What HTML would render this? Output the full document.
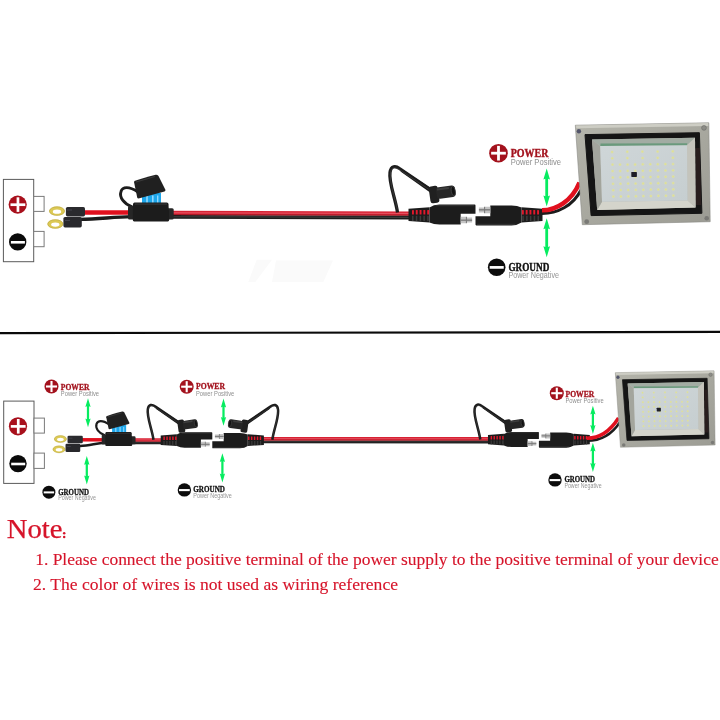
<!DOCTYPE html>
<html><head><meta charset="utf-8"><title>Wiring</title>
<style>
html,body{margin:0;padding:0;background:#fff;}
body{width:720px;height:720px;position:relative;overflow:hidden;font-family:"Liberation Serif",serif;}
svg{position:absolute;left:0;top:0;filter:blur(0.35px);}
.sf{font-family:"Liberation Serif",serif;}
.ss{font-family:"Liberation Sans",sans-serif;}
.note{position:absolute;color:#d0192b;font-family:"Liberation Serif",serif;white-space:nowrap;}
</style></head><body>
<svg width="720" height="720" viewBox="0 0 720 720">
<rect x="3.4" y="179.4" width="30.3" height="82.3" fill="#fff" stroke="#5a5a5a" stroke-width="1"/>
<rect x="33.7" y="196.4" width="10.4" height="15" fill="#fff" stroke="#7a7a7a" stroke-width="1"/>
<rect x="33.7" y="231.4" width="10.4" height="15.3" fill="#fff" stroke="#7a7a7a" stroke-width="1"/>
<circle cx="17.7" cy="204.6" r="9.1" fill="#a8101c"/>
<rect x="10.5" y="203.35000000000002" width="14.8" height="2.7" fill="#fff"/>
<rect x="16.599999999999998" y="197.29999999999998" width="2.7" height="14.6" fill="#fff"/>
<circle cx="17.7" cy="241.9" r="8.7" fill="#0a0a0a"/>
<rect x="10.899999999999999" y="241.0" width="14" height="2.6" fill="#fff"/>
<path d="M80,219.4 C100,219.4 112,216.8 132,216.6" fill="none" stroke="#1c1c1c" stroke-width="3.4"/>
<path d="M84,212.5 L132,212.5" fill="none" stroke="#e0101e" stroke-width="4.6"/>
<path d="M170,216.9 L410,217.5" stroke="#1c1c1c" stroke-width="3.8"/>
<path d="M170,216.71 L410,217.31" stroke="#3c3c3c" stroke-width="1.14"/>
<path d="M170,212.9 L410,213.5" stroke="#d82234" stroke-width="4.2"/>
<path d="M170,212.816 L410,213.416" stroke="#e9606f" stroke-width="0.84"/>
<path d="M170,214.66400000000002 L410,215.264" stroke="#8a1018" stroke-width="0.67"/>
<g transform="translate(397.5,212.5) scale(1.0,1.0)"><path d="M0,0 C-2,-14 -9,-30 -7.5,-40 C-6.5,-47 -2,-47 2,-44 L36,-21" fill="none" stroke="#1c1c1c" stroke-width="3.3" stroke-linejoin="round"/><path d="M4,-43.5 L36,-22.5 L34,-19 L3,-41 Z" fill="#1c1c1c"/><path d="M-0.3,-3 C-2,-14 -8.5,-30 -7,-40 C-6,-45.5 -2,-45.5 2,-42.8 L33,-22" fill="none" stroke="#4a4a4a" stroke-width="0.6"/><g transform="rotate(-8 44 -19)"><rect x="32" y="-27.5" width="9" height="17" rx="2.5" fill="#202020"/><rect x="39" y="-25.5" width="19" height="11.5" rx="3" fill="#262626"/><ellipse cx="56" cy="-19.8" rx="2" ry="4.6" fill="#111" stroke="#444" stroke-width="0.8"/><rect x="40" y="-24.5" width="12" height="2" fill="#3e3e3e"/></g></g>
<g transform="translate(57,211.1) scale(1.0)"><path fill-rule="evenodd" fill="#dcc955" d="M-7.8,0 a7.8,4.5 0 1,0 15.6,0 a7.8,4.5 0 1,0 -15.6,0 Z M-4.2,0.6 a4.2,2.1 0 1,0 8.4,0 a4.2,2.1 0 1,0 -8.4,0 Z"/><path fill="none" stroke="#b8a53a" stroke-width="0.6" d="M-7.6,0 a7.6,4.3 0 1,0 15.2,0 a7.6,4.3 0 1,0 -15.2,0 Z"/><path fill-rule="evenodd" fill="#dcc955" d="M-9.5,12.9 a7.8,4.5 0 1,0 15.6,0 a7.8,4.5 0 1,0 -15.6,0 Z M-5.9,13.5 a4.2,2.1 0 1,0 8.4,0 a4.2,2.1 0 1,0 -8.4,0 Z"/><path fill="none" stroke="#b8a53a" stroke-width="0.6" d="M-9.299999999999999,12.9 a7.6,4.3 0 1,0 15.2,0 a7.6,4.3 0 1,0 -15.2,0 Z"/><rect x="8.9" y="-4.1" width="19.1" height="9.4" rx="1.6" fill="#2a2a2e"/><rect x="6.4" y="5.9" width="18.4" height="10.4" rx="1.6" fill="#28282c"/><rect x="10" y="-1.5" width="5" height="0.8" fill="#4a4a55"/><rect x="8" y="9" width="5" height="0.8" fill="#4a4a55"/></g>
<g transform="translate(151,211.5) scale(1.0)"><path d="M-19.5,-5 C-27,-8 -32,-14 -30,-20 C-28.5,-25 -22,-25.5 -13,-19.5" fill="none" stroke="#1c1c1c" stroke-width="2.9" stroke-linecap="round"/><rect x="-9" y="-18.5" width="19" height="10.5" fill="#1ea6ea"/><rect x="-4.8" y="-16" width="1.6" height="8" fill="#8fd8ff"/><rect x="1" y="-16" width="1.6" height="8" fill="#8fd8ff"/><rect x="6" y="-16" width="1.4" height="8" fill="#8fd8ff"/><path d="M-16.7,-30.5 Q-10,-33 4.7,-36.8 Q6.5,-37 7.5,-35.5 L14.4,-21.7 Q14.8,-20.5 13.5,-20 L-12.5,-13 Q-13.5,-13 -13.8,-14 L-16.9,-29 Z" fill="#202020"/><path d="M-15,-29.5 L4,-35" stroke="#3a3a3a" stroke-width="1.2"/><rect x="-23" y="-5.7" width="6.5" height="13.6" rx="1.5" fill="#262626"/><rect x="15.5" y="-3.3" width="7.2" height="11.2" rx="1.5" fill="#262626"/><path d="M-16.5,-9.1 L15.8,-9.1 Q17.3,-9.1 17.5,-7.5 L18.2,8.5 Q18.2,9.9 16.8,9.9 L-16.8,9.9 Q-18.2,9.9 -18.2,8.5 L-18,-7.5 Q-17.8,-9.1 -16.5,-9.1 Z" fill="#1c1c1c"/><rect x="-16" y="-8" width="32" height="1.2" fill="#363636"/></g>
<g transform="translate(475.5,215) scale(1.0)"><path d="M-46,-7.5 Q-42,-10.3 -36,-10.4 L-0.8,-10.4 Q0,-10.4 0,-9.6 L0,-1.2 L-14.8,-1.2 L-14.8,9.6 L-36,9.6 Q-42,9.6 -46,7.5 Z" fill="#1c1c1c"/><path d="M-40,-9.3 L-1.5,-9.3" stroke="#3a3a3a" stroke-width="0.9"/><path d="M-14.8,1.8 L-9,1.8 L-9,2.6 L-3.4,2.6 L-3.4,7.6 L-9,7.6 L-9,8.2 L-14.8,8.2 Z" fill="#c4c4c4"/><rect x="-14.8" y="4.6" width="11.4" height="1.1" fill="#6a6a6a"/><rect x="-9.6" y="1.8" width="1" height="6.4" fill="#777"/><path d="M-67,-6.3 L-46,-7.8 L-46,7.5 L-67,6" fill="#1c1c1c"/><rect x="-63.5" y="-5" width="1.9" height="4.6" rx="0.4" fill="#e4182c"/><rect x="-63.5" y="0.8" width="1.5" height="5.2" fill="#3c3c3c"/><rect x="-59.7" y="-5" width="1.9" height="4.6" rx="0.4" fill="#e4182c"/><rect x="-59.7" y="0.8" width="1.5" height="5.2" fill="#3c3c3c"/><rect x="-55.9" y="-5" width="1.9" height="4.6" rx="0.4" fill="#e4182c"/><rect x="-55.9" y="0.8" width="1.5" height="5.2" fill="#3c3c3c"/><rect x="-52.1" y="-5" width="1.9" height="4.6" rx="0.4" fill="#e4182c"/><rect x="-52.1" y="0.8" width="1.5" height="5.2" fill="#3c3c3c"/><rect x="-48.3" y="-5" width="1.9" height="4.6" rx="0.4" fill="#e4182c"/><rect x="-48.3" y="0.8" width="1.5" height="5.2" fill="#3c3c3c"/><g transform="rotate(180)"><path d="M-46,-7.5 Q-42,-10.3 -36,-10.4 L-0.8,-10.4 Q0,-10.4 0,-9.6 L0,-1.2 L-14.8,-1.2 L-14.8,9.6 L-36,9.6 Q-42,9.6 -46,7.5 Z" fill="#1c1c1c"/><path d="M-40,-9.3 L-1.5,-9.3" stroke="#3a3a3a" stroke-width="0.9"/><path d="M-14.8,1.8 L-9,1.8 L-9,2.6 L-3.4,2.6 L-3.4,7.6 L-9,7.6 L-9,8.2 L-14.8,8.2 Z" fill="#c4c4c4"/><rect x="-14.8" y="4.6" width="11.4" height="1.1" fill="#6a6a6a"/><rect x="-9.6" y="1.8" width="1" height="6.4" fill="#777"/></g><g transform="scale(-1,1)"><path d="M-67,-6.3 L-46,-7.8 L-46,7.5 L-67,6" fill="#1c1c1c"/><rect x="-63.5" y="-5" width="1.9" height="4.6" rx="0.4" fill="#e4182c"/><rect x="-63.5" y="0.8" width="1.5" height="5.2" fill="#3c3c3c"/><rect x="-59.7" y="-5" width="1.9" height="4.6" rx="0.4" fill="#e4182c"/><rect x="-59.7" y="0.8" width="1.5" height="5.2" fill="#3c3c3c"/><rect x="-55.9" y="-5" width="1.9" height="4.6" rx="0.4" fill="#e4182c"/><rect x="-55.9" y="0.8" width="1.5" height="5.2" fill="#3c3c3c"/><rect x="-52.1" y="-5" width="1.9" height="4.6" rx="0.4" fill="#e4182c"/><rect x="-52.1" y="0.8" width="1.5" height="5.2" fill="#3c3c3c"/><rect x="-48.3" y="-5" width="1.9" height="4.6" rx="0.4" fill="#e4182c"/><rect x="-48.3" y="0.8" width="1.5" height="5.2" fill="#3c3c3c"/></g></g>
<path d="M542,213.6 C557,213.6 573,206 581,190" fill="none" stroke="#1c1c1c" stroke-width="3"/>
<path d="M542,210.3 C556,210.3 572,201 579.5,182.5" fill="none" stroke="#e0101e" stroke-width="4.6"/>
<g transform="translate(575.3,125) scale(1.0,1.0) translate(-575.3,-125)"><defs><linearGradient id="lf575" x1="0" y1="0" x2="1" y2="1"><stop offset="0" stop-color="#b4b4aa"/><stop offset="1" stop-color="#9c9c94"/></linearGradient><linearGradient id="lp575" x1="0" y1="0" x2="1" y2="1"><stop offset="0" stop-color="#cfd6d8"/><stop offset="1" stop-color="#c6ced0"/></linearGradient></defs><polygon points="575.3,125.2 708.8,122.8 710.2,221.7 582.3,224.7" fill="url(#lf575)" stroke="#8a8a84" stroke-width="0.6" stroke-linejoin="round"/><polygon points="576.0,125.4 708.2,123.1 708.3,125.9 576.3,128.2" fill="#cdcdc4"/><polygon points="585.0,134.6 699.4,132.7 701.9,213.3 591.1,215.6" fill="#151515" stroke="#151515" stroke-width="1" stroke-linejoin="round"/><polygon points="695.5,148.0 699.8,148.0 701.2,205.0 696.0,205.0" fill="#3a2626" opacity="0.55"/><polygon points="592.0,139.6 695.0,137.8 695.6,207.5 597.2,210.0" fill="#b8b9b1"/><polygon points="597.2,210.0 602.0,201.8 687.6,200.4 695.6,207.5" fill="#d4d4cb"/><polygon points="592.0,139.6 600.2,146.0 602.0,201.8 597.2,210.0" fill="#a3a59d"/><polygon points="592.0,139.6 695.0,137.8 687.0,145.3 600.2,146.0" fill="#a2aca3"/><polygon points="600.5,143.6 687.3,143.2 687.0,145.7 600.4,146.1" fill="#3d8a5c" opacity="0.55"/><polygon points="695.0,137.8 687.0,145.3 687.6,200.4 695.6,207.5" fill="#c4c4bc"/><polygon points="600.2,146.0 687.0,145.3 687.6,200.4 602.0,201.8" fill="url(#lp575)"/><circle cx="612.1" cy="151.9" r="1.5" fill="#d8dcb4"/><circle cx="612.1" cy="151.9" r="0.85" fill="#dfe092"/><circle cx="627.3" cy="151.7" r="1.5" fill="#d8dcb4"/><circle cx="627.3" cy="151.7" r="0.85" fill="#dfe092"/><circle cx="642.4" cy="151.6" r="1.5" fill="#d8dcb4"/><circle cx="642.4" cy="151.6" r="0.85" fill="#dfe092"/><circle cx="657.6" cy="151.5" r="1.5" fill="#d8dcb4"/><circle cx="657.6" cy="151.5" r="0.85" fill="#dfe092"/><circle cx="672.8" cy="151.3" r="1.5" fill="#d8dcb4"/><circle cx="672.8" cy="151.3" r="0.85" fill="#dfe092"/><circle cx="612.3" cy="158.3" r="1.5" fill="#d8dcb4"/><circle cx="612.3" cy="158.3" r="0.85" fill="#dfe092"/><circle cx="627.4" cy="158.1" r="1.5" fill="#d8dcb4"/><circle cx="627.4" cy="158.1" r="0.85" fill="#dfe092"/><circle cx="642.6" cy="158.0" r="1.5" fill="#d8dcb4"/><circle cx="642.6" cy="158.0" r="0.85" fill="#dfe092"/><circle cx="657.7" cy="157.8" r="1.5" fill="#d8dcb4"/><circle cx="657.7" cy="157.8" r="0.85" fill="#dfe092"/><circle cx="672.9" cy="157.7" r="1.5" fill="#d8dcb4"/><circle cx="672.9" cy="157.7" r="0.85" fill="#dfe092"/><circle cx="612.5" cy="164.6" r="1.5" fill="#d8dcb4"/><circle cx="612.5" cy="164.6" r="0.85" fill="#dfe092"/><circle cx="620.0" cy="164.6" r="1.5" fill="#d8dcb4"/><circle cx="620.0" cy="164.6" r="0.85" fill="#dfe092"/><circle cx="627.6" cy="164.5" r="1.5" fill="#d8dcb4"/><circle cx="627.6" cy="164.5" r="0.85" fill="#dfe092"/><circle cx="635.1" cy="164.4" r="1.5" fill="#d8dcb4"/><circle cx="635.1" cy="164.4" r="0.85" fill="#dfe092"/><circle cx="642.7" cy="164.3" r="1.5" fill="#d8dcb4"/><circle cx="642.7" cy="164.3" r="0.85" fill="#dfe092"/><circle cx="650.3" cy="164.2" r="1.5" fill="#d8dcb4"/><circle cx="650.3" cy="164.2" r="0.85" fill="#dfe092"/><circle cx="657.8" cy="164.2" r="1.5" fill="#d8dcb4"/><circle cx="657.8" cy="164.2" r="0.85" fill="#dfe092"/><circle cx="665.4" cy="164.1" r="1.5" fill="#d8dcb4"/><circle cx="665.4" cy="164.1" r="0.85" fill="#dfe092"/><circle cx="673.0" cy="164.0" r="1.5" fill="#d8dcb4"/><circle cx="673.0" cy="164.0" r="0.85" fill="#dfe092"/><circle cx="612.6" cy="171.0" r="1.5" fill="#d8dcb4"/><circle cx="612.6" cy="171.0" r="0.85" fill="#dfe092"/><circle cx="620.2" cy="170.9" r="1.5" fill="#d8dcb4"/><circle cx="620.2" cy="170.9" r="0.85" fill="#dfe092"/><circle cx="627.7" cy="170.8" r="1.5" fill="#d8dcb4"/><circle cx="627.7" cy="170.8" r="0.85" fill="#dfe092"/><circle cx="635.3" cy="170.8" r="1.5" fill="#d8dcb4"/><circle cx="635.3" cy="170.8" r="0.85" fill="#dfe092"/><circle cx="642.8" cy="170.7" r="1.5" fill="#d8dcb4"/><circle cx="642.8" cy="170.7" r="0.85" fill="#dfe092"/><circle cx="650.4" cy="170.6" r="1.5" fill="#d8dcb4"/><circle cx="650.4" cy="170.6" r="0.85" fill="#dfe092"/><circle cx="658.0" cy="170.5" r="1.5" fill="#d8dcb4"/><circle cx="658.0" cy="170.5" r="0.85" fill="#dfe092"/><circle cx="665.5" cy="170.4" r="1.5" fill="#d8dcb4"/><circle cx="665.5" cy="170.4" r="0.85" fill="#dfe092"/><circle cx="673.1" cy="170.3" r="1.5" fill="#d8dcb4"/><circle cx="673.1" cy="170.3" r="0.85" fill="#dfe092"/><circle cx="612.8" cy="177.4" r="1.5" fill="#d8dcb4"/><circle cx="612.8" cy="177.4" r="0.85" fill="#dfe092"/><circle cx="620.4" cy="177.3" r="1.5" fill="#d8dcb4"/><circle cx="620.4" cy="177.3" r="0.85" fill="#dfe092"/><circle cx="627.9" cy="177.2" r="1.5" fill="#d8dcb4"/><circle cx="627.9" cy="177.2" r="0.85" fill="#dfe092"/><circle cx="635.4" cy="177.1" r="1.5" fill="#d8dcb4"/><circle cx="635.4" cy="177.1" r="0.85" fill="#dfe092"/><circle cx="643.0" cy="177.0" r="1.5" fill="#d8dcb4"/><circle cx="643.0" cy="177.0" r="0.85" fill="#dfe092"/><circle cx="650.5" cy="176.9" r="1.5" fill="#d8dcb4"/><circle cx="650.5" cy="176.9" r="0.85" fill="#dfe092"/><circle cx="658.1" cy="176.8" r="1.5" fill="#d8dcb4"/><circle cx="658.1" cy="176.8" r="0.85" fill="#dfe092"/><circle cx="665.6" cy="176.7" r="1.5" fill="#d8dcb4"/><circle cx="665.6" cy="176.7" r="0.85" fill="#dfe092"/><circle cx="673.2" cy="176.6" r="1.5" fill="#d8dcb4"/><circle cx="673.2" cy="176.6" r="0.85" fill="#dfe092"/><circle cx="613.0" cy="183.8" r="1.5" fill="#d8dcb4"/><circle cx="613.0" cy="183.8" r="0.85" fill="#dfe092"/><circle cx="620.5" cy="183.7" r="1.5" fill="#d8dcb4"/><circle cx="620.5" cy="183.7" r="0.85" fill="#dfe092"/><circle cx="628.1" cy="183.6" r="1.5" fill="#d8dcb4"/><circle cx="628.1" cy="183.6" r="0.85" fill="#dfe092"/><circle cx="635.6" cy="183.5" r="1.5" fill="#d8dcb4"/><circle cx="635.6" cy="183.5" r="0.85" fill="#dfe092"/><circle cx="643.1" cy="183.4" r="1.5" fill="#d8dcb4"/><circle cx="643.1" cy="183.4" r="0.85" fill="#dfe092"/><circle cx="650.7" cy="183.3" r="1.5" fill="#d8dcb4"/><circle cx="650.7" cy="183.3" r="0.85" fill="#dfe092"/><circle cx="658.2" cy="183.2" r="1.5" fill="#d8dcb4"/><circle cx="658.2" cy="183.2" r="0.85" fill="#dfe092"/><circle cx="665.7" cy="183.1" r="1.5" fill="#d8dcb4"/><circle cx="665.7" cy="183.1" r="0.85" fill="#dfe092"/><circle cx="673.2" cy="183.0" r="1.5" fill="#d8dcb4"/><circle cx="673.2" cy="183.0" r="0.85" fill="#dfe092"/><circle cx="613.2" cy="190.2" r="1.5" fill="#d8dcb4"/><circle cx="613.2" cy="190.2" r="0.85" fill="#dfe092"/><circle cx="620.7" cy="190.1" r="1.5" fill="#d8dcb4"/><circle cx="620.7" cy="190.1" r="0.85" fill="#dfe092"/><circle cx="628.2" cy="189.9" r="1.5" fill="#d8dcb4"/><circle cx="628.2" cy="189.9" r="0.85" fill="#dfe092"/><circle cx="635.8" cy="189.8" r="1.5" fill="#d8dcb4"/><circle cx="635.8" cy="189.8" r="0.85" fill="#dfe092"/><circle cx="643.3" cy="189.7" r="1.5" fill="#d8dcb4"/><circle cx="643.3" cy="189.7" r="0.85" fill="#dfe092"/><circle cx="650.8" cy="189.6" r="1.5" fill="#d8dcb4"/><circle cx="650.8" cy="189.6" r="0.85" fill="#dfe092"/><circle cx="658.3" cy="189.5" r="1.5" fill="#d8dcb4"/><circle cx="658.3" cy="189.5" r="0.85" fill="#dfe092"/><circle cx="665.8" cy="189.4" r="1.5" fill="#d8dcb4"/><circle cx="665.8" cy="189.4" r="0.85" fill="#dfe092"/><circle cx="673.3" cy="189.3" r="1.5" fill="#d8dcb4"/><circle cx="673.3" cy="189.3" r="0.85" fill="#dfe092"/><circle cx="613.4" cy="196.5" r="1.5" fill="#d8dcb4"/><circle cx="613.4" cy="196.5" r="0.85" fill="#dfe092"/><circle cx="620.9" cy="196.4" r="1.5" fill="#d8dcb4"/><circle cx="620.9" cy="196.4" r="0.85" fill="#dfe092"/><circle cx="628.4" cy="196.3" r="1.5" fill="#d8dcb4"/><circle cx="628.4" cy="196.3" r="0.85" fill="#dfe092"/><circle cx="635.9" cy="196.2" r="1.5" fill="#d8dcb4"/><circle cx="635.9" cy="196.2" r="0.85" fill="#dfe092"/><circle cx="643.4" cy="196.1" r="1.5" fill="#d8dcb4"/><circle cx="643.4" cy="196.1" r="0.85" fill="#dfe092"/><circle cx="650.9" cy="196.0" r="1.5" fill="#d8dcb4"/><circle cx="650.9" cy="196.0" r="0.85" fill="#dfe092"/><circle cx="658.4" cy="195.8" r="1.5" fill="#d8dcb4"/><circle cx="658.4" cy="195.8" r="0.85" fill="#dfe092"/><circle cx="665.9" cy="195.7" r="1.5" fill="#d8dcb4"/><circle cx="665.9" cy="195.7" r="0.85" fill="#dfe092"/><circle cx="673.4" cy="195.6" r="1.5" fill="#d8dcb4"/><circle cx="673.4" cy="195.6" r="0.85" fill="#dfe092"/><rect x="631.3" y="171.9" width="5.6" height="5" rx="0.6" fill="#1e1e26"/><circle cx="578.9" cy="131.3" r="2.2" fill="#53556a"/><circle cx="704" cy="127.9" r="2.4" fill="#8c8c86" stroke="#6a6a66" stroke-width="0.6"/><circle cx="586.7" cy="221.7" r="2.4" fill="#7a7a76"/><circle cx="706.7" cy="218.3" r="2.3" fill="#7a7a76"/></g>
<g fill="#06ec60"><path d="M546.7,168.5 L550.0,179.5 L548.1,178.7 L548.1,196.3 L550.0,195.5 L546.7,206.5 L543.4000000000001,195.5 L545.3000000000001,196.3 L545.3000000000001,178.7 L543.4000000000001,179.5 Z"/></g>
<g fill="#06ec60"><path d="M546.7,218.3 L550.0,229.3 L548.1,228.5 L548.1,247.0 L550.0,246.2 L546.7,257.2 L543.4000000000001,246.2 L545.3000000000001,247.0 L545.3000000000001,228.5 L543.4000000000001,229.3 Z"/></g>
<circle cx="498.5" cy="153.2" r="9.3" fill="#a3121d"/>
<rect x="491.153" y="151.80499999999998" width="14.694000000000003" height="2.79" fill="#fff"/>
<rect x="497.105" y="145.85299999999998" width="2.79" height="14.694000000000003" fill="#fff"/>
<text x="510.7" y="156.7" class="sf" font-weight="bold" font-size="11.5" fill="#a3121d" stroke="#a3121d" stroke-width="0.40" textLength="37.7" lengthAdjust="spacingAndGlyphs">POWER</text>
<text x="510.7" y="165" class="ss" font-size="8.2" fill="#8e8e8e" textLength="50.3" lengthAdjust="spacingAndGlyphs">Power Positive</text>
<circle cx="496.7" cy="267.2" r="8.8" fill="#0c0c0c"/>
<rect x="489.65999999999997" y="266.036" width="14.080000000000002" height="2.728" fill="#fff"/>
<text x="508.4" y="271.0" class="sf" font-weight="bold" font-size="11.5" fill="#111" stroke="#111" stroke-width="0.40" textLength="40.9" lengthAdjust="spacingAndGlyphs">GROUND</text>
<text x="508.4" y="278.4" class="ss" font-size="8.2" fill="#949494" textLength="50.6" lengthAdjust="spacingAndGlyphs">Power Negative</text>
<path d="M248.3,282 L256.7,259.7 L272,259.7 L255.3,282 Z" fill="#fafafa"/>
<path d="M272,282 L276,260.4 L333,260.4 L323.3,282 Z" fill="#fafafa"/>
<path d="M0,333.2 L720,331.9" stroke="#0a0a0a" stroke-width="2.2"/>
<rect x="3.7" y="401.1" width="30.3" height="82.3" fill="#fff" stroke="#5a5a5a" stroke-width="1"/>
<rect x="34.0" y="418.1" width="10.4" height="15" fill="#fff" stroke="#7a7a7a" stroke-width="1"/>
<rect x="34.0" y="453.1" width="10.4" height="15.3" fill="#fff" stroke="#7a7a7a" stroke-width="1"/>
<circle cx="18.0" cy="426.3" r="9.1" fill="#a8101c"/>
<rect x="10.8" y="425.05" width="14.8" height="2.7" fill="#fff"/>
<rect x="16.9" y="419.0" width="2.7" height="14.6" fill="#fff"/>
<circle cx="18.0" cy="463.6" r="8.7" fill="#0a0a0a"/>
<rect x="11.2" y="462.7" width="14" height="2.6" fill="#fff"/>
<path d="M80,446 C90,446 96,443 105,442.8" fill="none" stroke="#1c1c1c" stroke-width="2.6"/>
<path d="M81,439.8 L105,439.8" fill="none" stroke="#e0101e" stroke-width="3.5"/>
<path d="M135,442.9 L165,443.0" stroke="#1c1c1c" stroke-width="2.6"/>
<path d="M135,442.77 L165,442.87" stroke="#3c3c3c" stroke-width="0.78"/>
<path d="M135,439.9 L165,440.0" stroke="#d82234" stroke-width="3.4"/>
<path d="M135,439.832 L165,439.932" stroke="#e9606f" stroke-width="0.68"/>
<path d="M135,441.328 L165,441.428" stroke="#8a1018" stroke-width="0.54"/>
<path d="M262,441.79999999999995 L492,442.0" stroke="#1c1c1c" stroke-width="2.8"/>
<path d="M262,441.65999999999997 L492,441.86" stroke="#3c3c3c" stroke-width="0.84"/>
<path d="M262,438.65 L492,438.85" stroke="#d82234" stroke-width="3.5"/>
<path d="M262,438.58 L492,438.78000000000003" stroke="#e9606f" stroke-width="0.70"/>
<path d="M262,440.12 L492,440.32000000000005" stroke="#8a1018" stroke-width="0.56"/>
<g transform="translate(153.5,439.8) scale(0.76,0.76)"><path d="M0,0 C-2,-14 -9,-30 -7.5,-40 C-6.5,-47 -2,-47 2,-44 L36,-21" fill="none" stroke="#1c1c1c" stroke-width="3.3" stroke-linejoin="round"/><path d="M4,-43.5 L36,-22.5 L34,-19 L3,-41 Z" fill="#1c1c1c"/><path d="M-0.3,-3 C-2,-14 -8.5,-30 -7,-40 C-6,-45.5 -2,-45.5 2,-42.8 L33,-22" fill="none" stroke="#4a4a4a" stroke-width="0.6"/><g transform="rotate(-8 44 -19)"><rect x="32" y="-27.5" width="9" height="17" rx="2.5" fill="#202020"/><rect x="39" y="-25.5" width="19" height="11.5" rx="3" fill="#262626"/><ellipse cx="56" cy="-19.8" rx="2" ry="4.6" fill="#111" stroke="#444" stroke-width="0.8"/><rect x="40" y="-24.5" width="12" height="2" fill="#3e3e3e"/></g></g>
<g transform="translate(272.3,439.8) scale(-0.76,0.76)"><path d="M0,0 C-2,-14 -9,-30 -7.5,-40 C-6.5,-47 -2,-47 2,-44 L36,-21" fill="none" stroke="#1c1c1c" stroke-width="3.3" stroke-linejoin="round"/><path d="M4,-43.5 L36,-22.5 L34,-19 L3,-41 Z" fill="#1c1c1c"/><path d="M-0.3,-3 C-2,-14 -8.5,-30 -7,-40 C-6,-45.5 -2,-45.5 2,-42.8 L33,-22" fill="none" stroke="#4a4a4a" stroke-width="0.6"/><g transform="rotate(-8 44 -19)"><rect x="32" y="-27.5" width="9" height="17" rx="2.5" fill="#202020"/><rect x="39" y="-25.5" width="19" height="11.5" rx="3" fill="#262626"/><ellipse cx="56" cy="-19.8" rx="2" ry="4.6" fill="#111" stroke="#444" stroke-width="0.8"/><rect x="40" y="-24.5" width="12" height="2" fill="#3e3e3e"/></g></g>
<g transform="translate(480.3,439.5) scale(0.76,0.76)"><path d="M0,0 C-2,-14 -9,-30 -7.5,-40 C-6.5,-47 -2,-47 2,-44 L36,-21" fill="none" stroke="#1c1c1c" stroke-width="3.3" stroke-linejoin="round"/><path d="M4,-43.5 L36,-22.5 L34,-19 L3,-41 Z" fill="#1c1c1c"/><path d="M-0.3,-3 C-2,-14 -8.5,-30 -7,-40 C-6,-45.5 -2,-45.5 2,-42.8 L33,-22" fill="none" stroke="#4a4a4a" stroke-width="0.6"/><g transform="rotate(-8 44 -19)"><rect x="32" y="-27.5" width="9" height="17" rx="2.5" fill="#202020"/><rect x="39" y="-25.5" width="19" height="11.5" rx="3" fill="#262626"/><ellipse cx="56" cy="-19.8" rx="2" ry="4.6" fill="#111" stroke="#444" stroke-width="0.8"/><rect x="40" y="-24.5" width="12" height="2" fill="#3e3e3e"/></g></g>
<g transform="translate(60.4,439) scale(0.8)"><path fill-rule="evenodd" fill="#dcc955" d="M-7.8,0 a7.8,4.5 0 1,0 15.6,0 a7.8,4.5 0 1,0 -15.6,0 Z M-4.2,0.6 a4.2,2.1 0 1,0 8.4,0 a4.2,2.1 0 1,0 -8.4,0 Z"/><path fill="none" stroke="#b8a53a" stroke-width="0.6" d="M-7.6,0 a7.6,4.3 0 1,0 15.2,0 a7.6,4.3 0 1,0 -15.2,0 Z"/><path fill-rule="evenodd" fill="#dcc955" d="M-9.5,12.9 a7.8,4.5 0 1,0 15.6,0 a7.8,4.5 0 1,0 -15.6,0 Z M-5.9,13.5 a4.2,2.1 0 1,0 8.4,0 a4.2,2.1 0 1,0 -8.4,0 Z"/><path fill="none" stroke="#b8a53a" stroke-width="0.6" d="M-9.299999999999999,12.9 a7.6,4.3 0 1,0 15.2,0 a7.6,4.3 0 1,0 -15.2,0 Z"/><rect x="8.9" y="-4.1" width="19.1" height="9.4" rx="1.6" fill="#2a2a2e"/><rect x="6.4" y="5.9" width="18.4" height="10.4" rx="1.6" fill="#28282c"/><rect x="10" y="-1.5" width="5" height="0.8" fill="#4a4a55"/><rect x="8" y="9" width="5" height="0.8" fill="#4a4a55"/></g>
<g transform="translate(118.75,438.75) scale(0.74)"><path d="M-19.5,-5 C-27,-8 -32,-14 -30,-20 C-28.5,-25 -22,-25.5 -13,-19.5" fill="none" stroke="#1c1c1c" stroke-width="2.9" stroke-linecap="round"/><rect x="-9" y="-18.5" width="19" height="10.5" fill="#1ea6ea"/><rect x="-4.8" y="-16" width="1.6" height="8" fill="#8fd8ff"/><rect x="1" y="-16" width="1.6" height="8" fill="#8fd8ff"/><rect x="6" y="-16" width="1.4" height="8" fill="#8fd8ff"/><path d="M-16.7,-30.5 Q-10,-33 4.7,-36.8 Q6.5,-37 7.5,-35.5 L14.4,-21.7 Q14.8,-20.5 13.5,-20 L-12.5,-13 Q-13.5,-13 -13.8,-14 L-16.9,-29 Z" fill="#202020"/><path d="M-15,-29.5 L4,-35" stroke="#3a3a3a" stroke-width="1.2"/><rect x="-23" y="-5.7" width="6.5" height="13.6" rx="1.5" fill="#262626"/><rect x="15.5" y="-3.3" width="7.2" height="11.2" rx="1.5" fill="#262626"/><path d="M-16.5,-9.1 L15.8,-9.1 Q17.3,-9.1 17.5,-7.5 L18.2,8.5 Q18.2,9.9 16.8,9.9 L-16.8,9.9 Q-18.2,9.9 -18.2,8.5 L-18,-7.5 Q-17.8,-9.1 -16.5,-9.1 Z" fill="#1c1c1c"/><rect x="-16" y="-8" width="32" height="1.2" fill="#363636"/></g>
<g transform="translate(212.3,440.3) scale(0.77)"><path d="M-46,-7.5 Q-42,-10.3 -36,-10.4 L-0.8,-10.4 Q0,-10.4 0,-9.6 L0,-1.2 L-14.8,-1.2 L-14.8,9.6 L-36,9.6 Q-42,9.6 -46,7.5 Z" fill="#1c1c1c"/><path d="M-40,-9.3 L-1.5,-9.3" stroke="#3a3a3a" stroke-width="0.9"/><path d="M-14.8,1.8 L-9,1.8 L-9,2.6 L-3.4,2.6 L-3.4,7.6 L-9,7.6 L-9,8.2 L-14.8,8.2 Z" fill="#c4c4c4"/><rect x="-14.8" y="4.6" width="11.4" height="1.1" fill="#6a6a6a"/><rect x="-9.6" y="1.8" width="1" height="6.4" fill="#777"/><path d="M-67,-6.3 L-46,-7.8 L-46,7.5 L-67,6" fill="#1c1c1c"/><rect x="-63.5" y="-5" width="1.9" height="4.6" rx="0.4" fill="#e4182c"/><rect x="-63.5" y="0.8" width="1.5" height="5.2" fill="#3c3c3c"/><rect x="-59.7" y="-5" width="1.9" height="4.6" rx="0.4" fill="#e4182c"/><rect x="-59.7" y="0.8" width="1.5" height="5.2" fill="#3c3c3c"/><rect x="-55.9" y="-5" width="1.9" height="4.6" rx="0.4" fill="#e4182c"/><rect x="-55.9" y="0.8" width="1.5" height="5.2" fill="#3c3c3c"/><rect x="-52.1" y="-5" width="1.9" height="4.6" rx="0.4" fill="#e4182c"/><rect x="-52.1" y="0.8" width="1.5" height="5.2" fill="#3c3c3c"/><rect x="-48.3" y="-5" width="1.9" height="4.6" rx="0.4" fill="#e4182c"/><rect x="-48.3" y="0.8" width="1.5" height="5.2" fill="#3c3c3c"/><g transform="rotate(180)"><path d="M-46,-7.5 Q-42,-10.3 -36,-10.4 L-0.8,-10.4 Q0,-10.4 0,-9.6 L0,-1.2 L-14.8,-1.2 L-14.8,9.6 L-36,9.6 Q-42,9.6 -46,7.5 Z" fill="#1c1c1c"/><path d="M-40,-9.3 L-1.5,-9.3" stroke="#3a3a3a" stroke-width="0.9"/><path d="M-14.8,1.8 L-9,1.8 L-9,2.6 L-3.4,2.6 L-3.4,7.6 L-9,7.6 L-9,8.2 L-14.8,8.2 Z" fill="#c4c4c4"/><rect x="-14.8" y="4.6" width="11.4" height="1.1" fill="#6a6a6a"/><rect x="-9.6" y="1.8" width="1" height="6.4" fill="#777"/></g><g transform="scale(-1,1)"><path d="M-67,-6.3 L-46,-7.8 L-46,7.5 L-67,6" fill="#1c1c1c"/><rect x="-63.5" y="-5" width="1.9" height="4.6" rx="0.4" fill="#e4182c"/><rect x="-63.5" y="0.8" width="1.5" height="5.2" fill="#3c3c3c"/><rect x="-59.7" y="-5" width="1.9" height="4.6" rx="0.4" fill="#e4182c"/><rect x="-59.7" y="0.8" width="1.5" height="5.2" fill="#3c3c3c"/><rect x="-55.9" y="-5" width="1.9" height="4.6" rx="0.4" fill="#e4182c"/><rect x="-55.9" y="0.8" width="1.5" height="5.2" fill="#3c3c3c"/><rect x="-52.1" y="-5" width="1.9" height="4.6" rx="0.4" fill="#e4182c"/><rect x="-52.1" y="0.8" width="1.5" height="5.2" fill="#3c3c3c"/><rect x="-48.3" y="-5" width="1.9" height="4.6" rx="0.4" fill="#e4182c"/><rect x="-48.3" y="0.8" width="1.5" height="5.2" fill="#3c3c3c"/></g></g>
<g transform="translate(538.9,439.8) scale(0.76)"><path d="M-46,-7.5 Q-42,-10.3 -36,-10.4 L-0.8,-10.4 Q0,-10.4 0,-9.6 L0,-1.2 L-14.8,-1.2 L-14.8,9.6 L-36,9.6 Q-42,9.6 -46,7.5 Z" fill="#1c1c1c"/><path d="M-40,-9.3 L-1.5,-9.3" stroke="#3a3a3a" stroke-width="0.9"/><path d="M-14.8,1.8 L-9,1.8 L-9,2.6 L-3.4,2.6 L-3.4,7.6 L-9,7.6 L-9,8.2 L-14.8,8.2 Z" fill="#c4c4c4"/><rect x="-14.8" y="4.6" width="11.4" height="1.1" fill="#6a6a6a"/><rect x="-9.6" y="1.8" width="1" height="6.4" fill="#777"/><path d="M-67,-6.3 L-46,-7.8 L-46,7.5 L-67,6" fill="#1c1c1c"/><rect x="-63.5" y="-5" width="1.9" height="4.6" rx="0.4" fill="#e4182c"/><rect x="-63.5" y="0.8" width="1.5" height="5.2" fill="#3c3c3c"/><rect x="-59.7" y="-5" width="1.9" height="4.6" rx="0.4" fill="#e4182c"/><rect x="-59.7" y="0.8" width="1.5" height="5.2" fill="#3c3c3c"/><rect x="-55.9" y="-5" width="1.9" height="4.6" rx="0.4" fill="#e4182c"/><rect x="-55.9" y="0.8" width="1.5" height="5.2" fill="#3c3c3c"/><rect x="-52.1" y="-5" width="1.9" height="4.6" rx="0.4" fill="#e4182c"/><rect x="-52.1" y="0.8" width="1.5" height="5.2" fill="#3c3c3c"/><rect x="-48.3" y="-5" width="1.9" height="4.6" rx="0.4" fill="#e4182c"/><rect x="-48.3" y="0.8" width="1.5" height="5.2" fill="#3c3c3c"/><g transform="rotate(180)"><path d="M-46,-7.5 Q-42,-10.3 -36,-10.4 L-0.8,-10.4 Q0,-10.4 0,-9.6 L0,-1.2 L-14.8,-1.2 L-14.8,9.6 L-36,9.6 Q-42,9.6 -46,7.5 Z" fill="#1c1c1c"/><path d="M-40,-9.3 L-1.5,-9.3" stroke="#3a3a3a" stroke-width="0.9"/><path d="M-14.8,1.8 L-9,1.8 L-9,2.6 L-3.4,2.6 L-3.4,7.6 L-9,7.6 L-9,8.2 L-14.8,8.2 Z" fill="#c4c4c4"/><rect x="-14.8" y="4.6" width="11.4" height="1.1" fill="#6a6a6a"/><rect x="-9.6" y="1.8" width="1" height="6.4" fill="#777"/></g><g transform="scale(-1,1)"><path d="M-67,-6.3 L-46,-7.8 L-46,7.5 L-67,6" fill="#1c1c1c"/><rect x="-63.5" y="-5" width="1.9" height="4.6" rx="0.4" fill="#e4182c"/><rect x="-63.5" y="0.8" width="1.5" height="5.2" fill="#3c3c3c"/><rect x="-59.7" y="-5" width="1.9" height="4.6" rx="0.4" fill="#e4182c"/><rect x="-59.7" y="0.8" width="1.5" height="5.2" fill="#3c3c3c"/><rect x="-55.9" y="-5" width="1.9" height="4.6" rx="0.4" fill="#e4182c"/><rect x="-55.9" y="0.8" width="1.5" height="5.2" fill="#3c3c3c"/><rect x="-52.1" y="-5" width="1.9" height="4.6" rx="0.4" fill="#e4182c"/><rect x="-52.1" y="0.8" width="1.5" height="5.2" fill="#3c3c3c"/><rect x="-48.3" y="-5" width="1.9" height="4.6" rx="0.4" fill="#e4182c"/><rect x="-48.3" y="0.8" width="1.5" height="5.2" fill="#3c3c3c"/></g></g>
<path d="M587,440.8 C598,440.8 611,436 620,422" fill="none" stroke="#1c1c1c" stroke-width="2.4"/>
<path d="M587,438.2 C598,438.2 609,433 618.5,418" fill="none" stroke="#e0101e" stroke-width="3.5"/>
<g transform="translate(615.3,372.5) scale(0.74,0.75) translate(-575.3,-125)"><defs><linearGradient id="lf615" x1="0" y1="0" x2="1" y2="1"><stop offset="0" stop-color="#b4b4aa"/><stop offset="1" stop-color="#9c9c94"/></linearGradient><linearGradient id="lp615" x1="0" y1="0" x2="1" y2="1"><stop offset="0" stop-color="#cfd6d8"/><stop offset="1" stop-color="#c6ced0"/></linearGradient></defs><polygon points="575.3,125.2 708.8,122.8 710.2,221.7 582.3,224.7" fill="url(#lf615)" stroke="#8a8a84" stroke-width="0.6" stroke-linejoin="round"/><polygon points="576.0,125.4 708.2,123.1 708.3,125.9 576.3,128.2" fill="#cdcdc4"/><polygon points="585.0,134.6 699.4,132.7 701.9,213.3 591.1,215.6" fill="#151515" stroke="#151515" stroke-width="1" stroke-linejoin="round"/><polygon points="695.5,148.0 699.8,148.0 701.2,205.0 696.0,205.0" fill="#3a2626" opacity="0.55"/><polygon points="592.0,139.6 695.0,137.8 695.6,207.5 597.2,210.0" fill="#b8b9b1"/><polygon points="597.2,210.0 602.0,201.8 687.6,200.4 695.6,207.5" fill="#d4d4cb"/><polygon points="592.0,139.6 600.2,146.0 602.0,201.8 597.2,210.0" fill="#a3a59d"/><polygon points="592.0,139.6 695.0,137.8 687.0,145.3 600.2,146.0" fill="#a2aca3"/><polygon points="600.5,143.6 687.3,143.2 687.0,145.7 600.4,146.1" fill="#3d8a5c" opacity="0.55"/><polygon points="695.0,137.8 687.0,145.3 687.6,200.4 695.6,207.5" fill="#c4c4bc"/><polygon points="600.2,146.0 687.0,145.3 687.6,200.4 602.0,201.8" fill="url(#lp615)"/><circle cx="612.1" cy="151.9" r="1.5" fill="#d8dcb4"/><circle cx="612.1" cy="151.9" r="0.85" fill="#dfe092"/><circle cx="627.3" cy="151.7" r="1.5" fill="#d8dcb4"/><circle cx="627.3" cy="151.7" r="0.85" fill="#dfe092"/><circle cx="642.4" cy="151.6" r="1.5" fill="#d8dcb4"/><circle cx="642.4" cy="151.6" r="0.85" fill="#dfe092"/><circle cx="657.6" cy="151.5" r="1.5" fill="#d8dcb4"/><circle cx="657.6" cy="151.5" r="0.85" fill="#dfe092"/><circle cx="672.8" cy="151.3" r="1.5" fill="#d8dcb4"/><circle cx="672.8" cy="151.3" r="0.85" fill="#dfe092"/><circle cx="612.3" cy="158.3" r="1.5" fill="#d8dcb4"/><circle cx="612.3" cy="158.3" r="0.85" fill="#dfe092"/><circle cx="627.4" cy="158.1" r="1.5" fill="#d8dcb4"/><circle cx="627.4" cy="158.1" r="0.85" fill="#dfe092"/><circle cx="642.6" cy="158.0" r="1.5" fill="#d8dcb4"/><circle cx="642.6" cy="158.0" r="0.85" fill="#dfe092"/><circle cx="657.7" cy="157.8" r="1.5" fill="#d8dcb4"/><circle cx="657.7" cy="157.8" r="0.85" fill="#dfe092"/><circle cx="672.9" cy="157.7" r="1.5" fill="#d8dcb4"/><circle cx="672.9" cy="157.7" r="0.85" fill="#dfe092"/><circle cx="612.5" cy="164.6" r="1.5" fill="#d8dcb4"/><circle cx="612.5" cy="164.6" r="0.85" fill="#dfe092"/><circle cx="620.0" cy="164.6" r="1.5" fill="#d8dcb4"/><circle cx="620.0" cy="164.6" r="0.85" fill="#dfe092"/><circle cx="627.6" cy="164.5" r="1.5" fill="#d8dcb4"/><circle cx="627.6" cy="164.5" r="0.85" fill="#dfe092"/><circle cx="635.1" cy="164.4" r="1.5" fill="#d8dcb4"/><circle cx="635.1" cy="164.4" r="0.85" fill="#dfe092"/><circle cx="642.7" cy="164.3" r="1.5" fill="#d8dcb4"/><circle cx="642.7" cy="164.3" r="0.85" fill="#dfe092"/><circle cx="650.3" cy="164.2" r="1.5" fill="#d8dcb4"/><circle cx="650.3" cy="164.2" r="0.85" fill="#dfe092"/><circle cx="657.8" cy="164.2" r="1.5" fill="#d8dcb4"/><circle cx="657.8" cy="164.2" r="0.85" fill="#dfe092"/><circle cx="665.4" cy="164.1" r="1.5" fill="#d8dcb4"/><circle cx="665.4" cy="164.1" r="0.85" fill="#dfe092"/><circle cx="673.0" cy="164.0" r="1.5" fill="#d8dcb4"/><circle cx="673.0" cy="164.0" r="0.85" fill="#dfe092"/><circle cx="612.6" cy="171.0" r="1.5" fill="#d8dcb4"/><circle cx="612.6" cy="171.0" r="0.85" fill="#dfe092"/><circle cx="620.2" cy="170.9" r="1.5" fill="#d8dcb4"/><circle cx="620.2" cy="170.9" r="0.85" fill="#dfe092"/><circle cx="627.7" cy="170.8" r="1.5" fill="#d8dcb4"/><circle cx="627.7" cy="170.8" r="0.85" fill="#dfe092"/><circle cx="635.3" cy="170.8" r="1.5" fill="#d8dcb4"/><circle cx="635.3" cy="170.8" r="0.85" fill="#dfe092"/><circle cx="642.8" cy="170.7" r="1.5" fill="#d8dcb4"/><circle cx="642.8" cy="170.7" r="0.85" fill="#dfe092"/><circle cx="650.4" cy="170.6" r="1.5" fill="#d8dcb4"/><circle cx="650.4" cy="170.6" r="0.85" fill="#dfe092"/><circle cx="658.0" cy="170.5" r="1.5" fill="#d8dcb4"/><circle cx="658.0" cy="170.5" r="0.85" fill="#dfe092"/><circle cx="665.5" cy="170.4" r="1.5" fill="#d8dcb4"/><circle cx="665.5" cy="170.4" r="0.85" fill="#dfe092"/><circle cx="673.1" cy="170.3" r="1.5" fill="#d8dcb4"/><circle cx="673.1" cy="170.3" r="0.85" fill="#dfe092"/><circle cx="612.8" cy="177.4" r="1.5" fill="#d8dcb4"/><circle cx="612.8" cy="177.4" r="0.85" fill="#dfe092"/><circle cx="620.4" cy="177.3" r="1.5" fill="#d8dcb4"/><circle cx="620.4" cy="177.3" r="0.85" fill="#dfe092"/><circle cx="627.9" cy="177.2" r="1.5" fill="#d8dcb4"/><circle cx="627.9" cy="177.2" r="0.85" fill="#dfe092"/><circle cx="635.4" cy="177.1" r="1.5" fill="#d8dcb4"/><circle cx="635.4" cy="177.1" r="0.85" fill="#dfe092"/><circle cx="643.0" cy="177.0" r="1.5" fill="#d8dcb4"/><circle cx="643.0" cy="177.0" r="0.85" fill="#dfe092"/><circle cx="650.5" cy="176.9" r="1.5" fill="#d8dcb4"/><circle cx="650.5" cy="176.9" r="0.85" fill="#dfe092"/><circle cx="658.1" cy="176.8" r="1.5" fill="#d8dcb4"/><circle cx="658.1" cy="176.8" r="0.85" fill="#dfe092"/><circle cx="665.6" cy="176.7" r="1.5" fill="#d8dcb4"/><circle cx="665.6" cy="176.7" r="0.85" fill="#dfe092"/><circle cx="673.2" cy="176.6" r="1.5" fill="#d8dcb4"/><circle cx="673.2" cy="176.6" r="0.85" fill="#dfe092"/><circle cx="613.0" cy="183.8" r="1.5" fill="#d8dcb4"/><circle cx="613.0" cy="183.8" r="0.85" fill="#dfe092"/><circle cx="620.5" cy="183.7" r="1.5" fill="#d8dcb4"/><circle cx="620.5" cy="183.7" r="0.85" fill="#dfe092"/><circle cx="628.1" cy="183.6" r="1.5" fill="#d8dcb4"/><circle cx="628.1" cy="183.6" r="0.85" fill="#dfe092"/><circle cx="635.6" cy="183.5" r="1.5" fill="#d8dcb4"/><circle cx="635.6" cy="183.5" r="0.85" fill="#dfe092"/><circle cx="643.1" cy="183.4" r="1.5" fill="#d8dcb4"/><circle cx="643.1" cy="183.4" r="0.85" fill="#dfe092"/><circle cx="650.7" cy="183.3" r="1.5" fill="#d8dcb4"/><circle cx="650.7" cy="183.3" r="0.85" fill="#dfe092"/><circle cx="658.2" cy="183.2" r="1.5" fill="#d8dcb4"/><circle cx="658.2" cy="183.2" r="0.85" fill="#dfe092"/><circle cx="665.7" cy="183.1" r="1.5" fill="#d8dcb4"/><circle cx="665.7" cy="183.1" r="0.85" fill="#dfe092"/><circle cx="673.2" cy="183.0" r="1.5" fill="#d8dcb4"/><circle cx="673.2" cy="183.0" r="0.85" fill="#dfe092"/><circle cx="613.2" cy="190.2" r="1.5" fill="#d8dcb4"/><circle cx="613.2" cy="190.2" r="0.85" fill="#dfe092"/><circle cx="620.7" cy="190.1" r="1.5" fill="#d8dcb4"/><circle cx="620.7" cy="190.1" r="0.85" fill="#dfe092"/><circle cx="628.2" cy="189.9" r="1.5" fill="#d8dcb4"/><circle cx="628.2" cy="189.9" r="0.85" fill="#dfe092"/><circle cx="635.8" cy="189.8" r="1.5" fill="#d8dcb4"/><circle cx="635.8" cy="189.8" r="0.85" fill="#dfe092"/><circle cx="643.3" cy="189.7" r="1.5" fill="#d8dcb4"/><circle cx="643.3" cy="189.7" r="0.85" fill="#dfe092"/><circle cx="650.8" cy="189.6" r="1.5" fill="#d8dcb4"/><circle cx="650.8" cy="189.6" r="0.85" fill="#dfe092"/><circle cx="658.3" cy="189.5" r="1.5" fill="#d8dcb4"/><circle cx="658.3" cy="189.5" r="0.85" fill="#dfe092"/><circle cx="665.8" cy="189.4" r="1.5" fill="#d8dcb4"/><circle cx="665.8" cy="189.4" r="0.85" fill="#dfe092"/><circle cx="673.3" cy="189.3" r="1.5" fill="#d8dcb4"/><circle cx="673.3" cy="189.3" r="0.85" fill="#dfe092"/><circle cx="613.4" cy="196.5" r="1.5" fill="#d8dcb4"/><circle cx="613.4" cy="196.5" r="0.85" fill="#dfe092"/><circle cx="620.9" cy="196.4" r="1.5" fill="#d8dcb4"/><circle cx="620.9" cy="196.4" r="0.85" fill="#dfe092"/><circle cx="628.4" cy="196.3" r="1.5" fill="#d8dcb4"/><circle cx="628.4" cy="196.3" r="0.85" fill="#dfe092"/><circle cx="635.9" cy="196.2" r="1.5" fill="#d8dcb4"/><circle cx="635.9" cy="196.2" r="0.85" fill="#dfe092"/><circle cx="643.4" cy="196.1" r="1.5" fill="#d8dcb4"/><circle cx="643.4" cy="196.1" r="0.85" fill="#dfe092"/><circle cx="650.9" cy="196.0" r="1.5" fill="#d8dcb4"/><circle cx="650.9" cy="196.0" r="0.85" fill="#dfe092"/><circle cx="658.4" cy="195.8" r="1.5" fill="#d8dcb4"/><circle cx="658.4" cy="195.8" r="0.85" fill="#dfe092"/><circle cx="665.9" cy="195.7" r="1.5" fill="#d8dcb4"/><circle cx="665.9" cy="195.7" r="0.85" fill="#dfe092"/><circle cx="673.4" cy="195.6" r="1.5" fill="#d8dcb4"/><circle cx="673.4" cy="195.6" r="0.85" fill="#dfe092"/><rect x="631.3" y="171.9" width="5.6" height="5" rx="0.6" fill="#1e1e26"/><circle cx="578.9" cy="131.3" r="2.2" fill="#53556a"/><circle cx="704" cy="127.9" r="2.4" fill="#8c8c86" stroke="#6a6a66" stroke-width="0.6"/><circle cx="586.7" cy="221.7" r="2.4" fill="#7a7a76"/><circle cx="706.7" cy="218.3" r="2.3" fill="#7a7a76"/></g>
<g fill="#06ec60"><path d="M88,398.2 L90.64,407.0 L89.12,406.36 L89.12,419.14 L90.64,418.5 L88,427.3 L85.36,418.5 L86.88,419.14 L86.88,406.36 L85.36,407.0 Z"/></g>
<g fill="#06ec60"><path d="M86.8,456 L89.44,464.8 L87.92,464.16 L87.92,476.23999999999995 L89.44,475.59999999999997 L86.8,484.4 L84.16,475.59999999999997 L85.67999999999999,476.23999999999995 L85.67999999999999,464.16 L84.16,464.8 Z"/></g>
<g fill="#06ec60"><path d="M223.5,398.6 L226.14,407.40000000000003 L224.62,406.76000000000005 L224.62,417.64 L226.14,417.0 L223.5,425.8 L220.86,417.0 L222.38,417.64 L222.38,406.76000000000005 L220.86,407.40000000000003 Z"/></g>
<g fill="#06ec60"><path d="M222.4,453.2 L225.04,462.0 L223.52,461.36 L223.52,474.23999999999995 L225.04,473.59999999999997 L222.4,482.4 L219.76000000000002,473.59999999999997 L221.28,474.23999999999995 L221.28,461.36 L219.76000000000002,462.0 Z"/></g>
<g fill="#06ec60"><path d="M592.9,405.7 L595.54,414.5 L594.02,413.86 L594.02,425.73999999999995 L595.54,425.09999999999997 L592.9,433.9 L590.26,425.09999999999997 L591.78,425.73999999999995 L591.78,413.86 L590.26,414.5 Z"/></g>
<g fill="#06ec60"><path d="M592.9,442.7 L595.54,451.5 L594.02,450.86 L594.02,463.73999999999995 L595.54,463.09999999999997 L592.9,471.9 L590.26,463.09999999999997 L591.78,463.73999999999995 L591.78,450.86 L590.26,451.5 Z"/></g>
<circle cx="51.5" cy="386.5" r="7.0" fill="#a3121d"/>
<rect x="45.97" y="385.45" width="11.06" height="2.1" fill="#fff"/>
<rect x="50.45" y="380.97" width="2.1" height="11.06" fill="#fff"/>
<text x="60.8" y="390.0" class="sf" font-weight="bold" font-size="8.8" fill="#a3121d" stroke="#a3121d" stroke-width="0.31" textLength="28.6" lengthAdjust="spacingAndGlyphs">POWER</text>
<text x="60.8" y="395.8" class="ss" font-size="6.3" fill="#8e8e8e" textLength="38.3" lengthAdjust="spacingAndGlyphs">Power Positive</text>
<circle cx="48.9" cy="492.2" r="6.5" fill="#0c0c0c"/>
<rect x="43.699999999999996" y="491.3925" width="10.4" height="2.015" fill="#fff"/>
<text x="58.2" y="494.7" class="sf" font-weight="bold" font-size="8.8" fill="#111" stroke="#111" stroke-width="0.31" textLength="30.8" lengthAdjust="spacingAndGlyphs">GROUND</text>
<text x="58.2" y="500.2" class="ss" font-size="6.3" fill="#949494" textLength="37.7" lengthAdjust="spacingAndGlyphs">Power Negative</text>
<circle cx="186.7" cy="386.7" r="7.0" fill="#a3121d"/>
<rect x="181.17" y="385.65" width="11.06" height="2.1" fill="#fff"/>
<rect x="185.64999999999998" y="381.17" width="2.1" height="11.06" fill="#fff"/>
<text x="196.0" y="389.3" class="sf" font-weight="bold" font-size="8.8" fill="#a3121d" stroke="#a3121d" stroke-width="0.31" textLength="29.0" lengthAdjust="spacingAndGlyphs">POWER</text>
<text x="196.0" y="396.0" class="ss" font-size="6.3" fill="#8e8e8e" textLength="38.3" lengthAdjust="spacingAndGlyphs">Power Positive</text>
<circle cx="184.4" cy="489.9" r="6.7" fill="#0c0c0c"/>
<rect x="179.04" y="489.06149999999997" width="10.72" height="2.077" fill="#fff"/>
<text x="193.3" y="492.4" class="sf" font-weight="bold" font-size="8.8" fill="#111" stroke="#111" stroke-width="0.31" textLength="31.7" lengthAdjust="spacingAndGlyphs">GROUND</text>
<text x="193.3" y="498.0" class="ss" font-size="6.3" fill="#949494" textLength="38.4" lengthAdjust="spacingAndGlyphs">Power Negative</text>
<circle cx="556.8" cy="393.2" r="7.0" fill="#a3121d"/>
<rect x="551.27" y="392.15" width="11.06" height="2.1" fill="#fff"/>
<rect x="555.75" y="387.67" width="2.1" height="11.06" fill="#fff"/>
<text x="565.5" y="397.2" class="sf" font-weight="bold" font-size="8.8" fill="#a3121d" stroke="#a3121d" stroke-width="0.31" textLength="28.8" lengthAdjust="spacingAndGlyphs">POWER</text>
<text x="565.5" y="402.6" class="ss" font-size="6.3" fill="#8e8e8e" textLength="38.2" lengthAdjust="spacingAndGlyphs">Power Positive</text>
<circle cx="555.0" cy="479.9" r="6.7" fill="#0c0c0c"/>
<rect x="549.64" y="479.06149999999997" width="10.72" height="2.077" fill="#fff"/>
<text x="564.4" y="482.2" class="sf" font-weight="bold" font-size="8.8" fill="#111" stroke="#111" stroke-width="0.31" textLength="30.7" lengthAdjust="spacingAndGlyphs">GROUND</text>
<text x="564.4" y="487.9" class="ss" font-size="6.3" fill="#949494" textLength="37.2" lengthAdjust="spacingAndGlyphs">Power Negative</text>
<text x="6.8" y="538" class="sf" font-size="26.7" fill="#d6142a" stroke="#d6142a" stroke-width="0.25" textLength="55.8" lengthAdjust="spacingAndGlyphs">Note</text>
<circle cx="64.2" cy="533.2" r="1.25" fill="#d6142a"/><circle cx="64.2" cy="537.1" r="1.25" fill="#d6142a"/>
<text x="35.2" y="565" class="sf" font-size="17.2" fill="#d6142a" stroke="#d6142a" stroke-width="0.12" textLength="683.5" lengthAdjust="spacingAndGlyphs">1. Please connect the positive terminal of the power supply to the positive terminal of your device</text>
<text x="33" y="589.6" class="sf" font-size="17.2" fill="#d6142a" stroke="#d6142a" stroke-width="0.12" textLength="365" lengthAdjust="spacingAndGlyphs">2. The color of wires is not used as wiring reference</text>
</svg>
</body></html>
